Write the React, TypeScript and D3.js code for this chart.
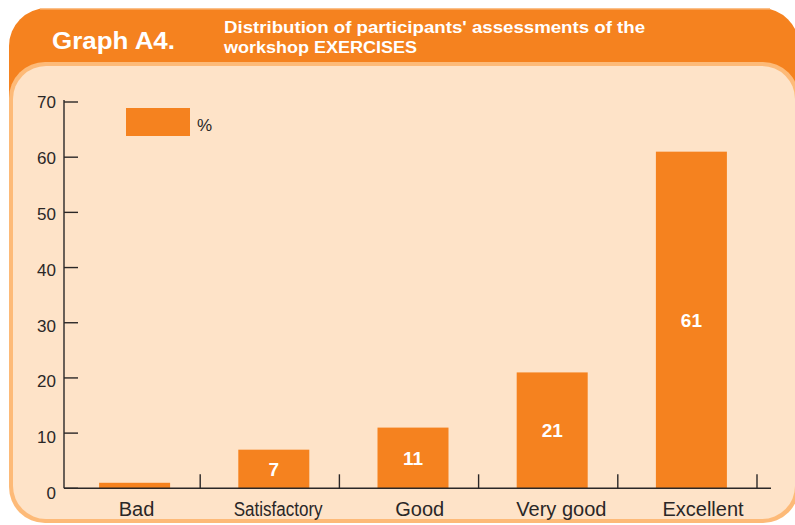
import React from "react";
import * as d3 from "d3";

const categories = ["Bad", "Satisfactory", "Good", "Very good", "Excellent"];
const percentValues = [1, 7, 11, 21, 61];
const valueLabels = ["", "7", "11", "21", "61"];
const yTicks = [0, 10, 20, 30, 40, 50, 60, 70];
const headerLabel = "Graph A4.";
const titleLines = ["Distribution of participants' assessments of the", "workshop EXERCISES"];
const legendLabel = "%";

const ORANGE = "#F5821F";
const PEACH = "#FEE3C8";
const BORDER = "#FDBA78";
const INK = "#2a2727";
const FONT = "'Liberation Sans', Arial, sans-serif";

export default function App() {
  const W = 795;
  const H = 525;
  const y = d3.scaleLinear().domain([0, 70]).range([488.3, 102]);
  const yLabel = d3.scaleLinear().domain([0, 70]).range([493, 102]);
  const x = d3.scaleBand<string>().domain(categories).range([61, 757]).padding(0);
  const xLabel = d3.scalePoint<string>().domain(categories).range([136.5, 703]);
  const barW = 71;
  const barOffset = 4;
  const axisX = 64;
  const base = y(0);
  const titleWidths = [421, 193];

  return (
    <svg width={W} height={H} style={{ position: "absolute", left: 0, top: 0, background: "#fff" }}>
      {/* header */}
      <rect x={9} y={8} width={790} height={300} rx={38} fill={ORANGE} />
      <rect x={40} y={8} width={730} height={1.5} fill="#FBC08A" />
      <text x={52} y={49} fill="#fff" fontFamily={FONT} fontWeight="bold" fontSize={24.5}
        textLength={123} lengthAdjust="spacingAndGlyphs">
        {headerLabel}
      </text>
      {titleLines.map((t, i) => (
        <text key={i} x={224} y={32.5 + i * 20.5} fill="#fff" fontFamily={FONT} fontWeight="bold" fontSize={16}
          textLength={titleWidths[i]} lengthAdjust="spacingAndGlyphs">
          {t}
        </text>
      ))}
      {/* panel */}
      <rect x={9} y={62} width={790} height={461} rx={36} fill={BORDER} />
      <rect x={13} y={66} width={782} height={453} rx={33} fill={PEACH} />

      {/* bars */}
      {categories.map((c, i) => {
        const cx = (x(c) as number) + x.bandwidth() / 2 + barOffset;
        const top = y(percentValues[i]);
        return (
          <g key={c}>
            <rect x={cx - barW / 2} y={top} width={barW} height={base - top} fill={ORANGE} />
            {valueLabels[i] && (
              <text x={cx} y={(top + base) / 2} dy="0.36em" textAnchor="middle" fill="#fff"
                fontFamily={FONT} fontWeight="bold" fontSize={19}>
                {valueLabels[i]}
              </text>
            )}
            <text x={xLabel(c)} y={515.5} textAnchor="middle" fill={INK} fontFamily={FONT} fontSize={20}
              {...(c === "Satisfactory" ? { textLength: 89, lengthAdjust: "spacingAndGlyphs" } : {})}>
              {c}
            </text>
          </g>
        );
      })}

      {/* y axis */}
      <line x1={axisX} x2={axisX} y1={y(70) - 2} y2={base} stroke={INK} strokeWidth={1.4} />
      {yTicks.map((t) => (
        <g key={t}>
          <line x1={axisX} x2={axisX + 14} y1={y(t)} y2={y(t)} stroke={INK} strokeWidth={1.4} />
          <text x={56} y={yLabel(t)} dy="0.36em" textAnchor="end" fill={INK} fontFamily={FONT} fontSize={17}>
            {t}
          </text>
        </g>
      ))}
      {/* x axis */}
      <line x1={axisX} x2={771} y1={base} y2={base} stroke={INK} strokeWidth={1.4} />
      {categories.map((c) => {
        const bx = (x(c) as number) + x.bandwidth();
        return <line key={c} x1={bx} x2={bx} y1={base} y2={base - 14} stroke={INK} strokeWidth={1.4} />;
      })}

      {/* legend */}
      <rect x={126} y={108} width={64} height={28} fill={ORANGE} />
      <text x={197} y={131} fill={INK} fontFamily={FONT} fontSize={17}>{legendLabel}</text>
    </svg>
  );
}
